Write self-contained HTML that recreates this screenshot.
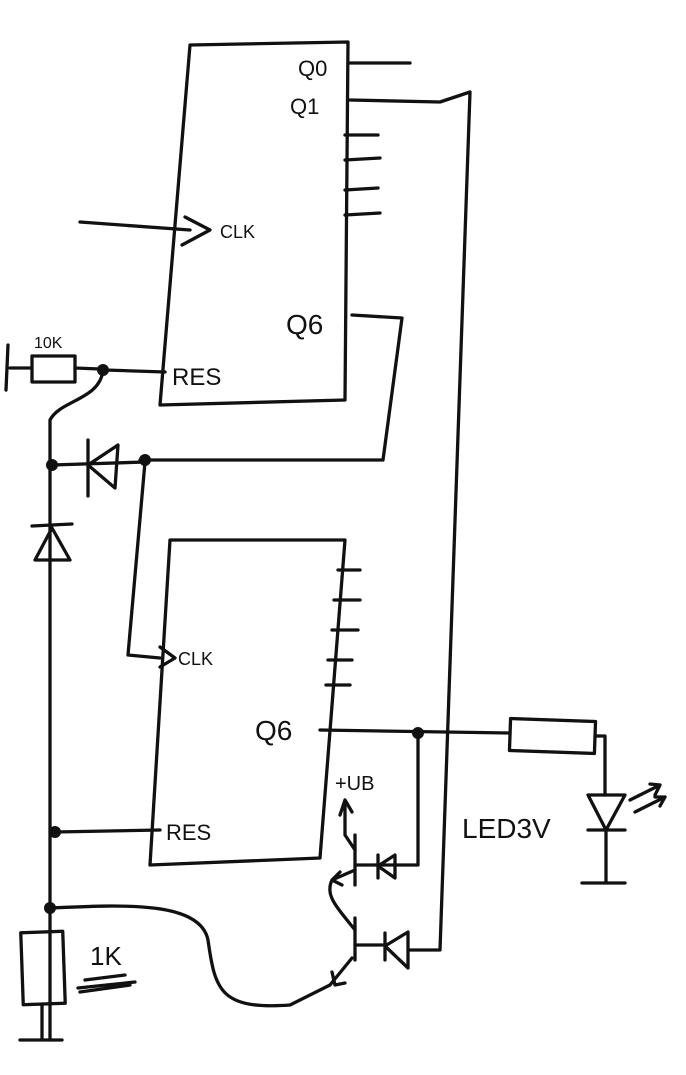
<!DOCTYPE html>
<html><head><style>
body{margin:0;background:#fff;}
svg{display:block}
text{font-family:"Liberation Sans",sans-serif;fill:#111;}
</style></head><body>
<svg width="686" height="1075" viewBox="0 0 686 1075" xmlns="http://www.w3.org/2000/svg">
<g fill="none" stroke="#111" stroke-width="3.3" stroke-linecap="round" stroke-linejoin="round">
<path d="M190,45 L348,42 L345,400 L160,405 L190,45"/>
<path d="M350,63 L410,63"/>
<path d="M350,100 L440,102 L470,92 L440,950 L410,950"/>
<path d="M345,135 L378,135 M345,160 L380,158 M345,190 L378,188 M345,215 L380,213"/>
<path d="M80,222 L190,230"/>
<path d="M185,217 L210,230 L182,245"/>
<path d="M352,315 L402,318 L383,460 L140,460"/>
<path d="M105,370 L165,372"/>
<rect x="32" y="356" width="43" height="26"/>
<path d="M10,368 L32,368 M75,368 L100,369 M8,345 L6,390"/>
<path d="M103,370 C100,400 60,400 50,420 L50,1040"/>
<path d="M52,465 L145,462"/>
<path d="M88,465 L118,445 L115,488 Z"/>
<path d="M88,440 L88,496"/>
<path d="M35,560 L70,560 L52,528 Z"/>
<path d="M32,526 L72,524"/>
<path d="M145,462 L128,655 L160,658"/>
<path d="M160,647 L175,658 L160,667"/>
<path d="M170,540 L345,540 L320,858 L150,865 L170,540"/>
<path d="M338,570 L360,570 M334,600 L360,600 M332,630 L358,630 M328,660 L352,660 M326,685 L350,685"/>
<path d="M320,730 L510,733"/>
<rect x="510" y="720" width="85" height="32" transform="rotate(2 552 736)"/>
<path d="M595,736 L605,736 L605,795"/>
<path d="M588,795 L625,795 L606,830 Z M588,830 L625,830 M606,830 L606,882 M582,883 L625,883"/>
<path d="M630,800 L660,785 M650,784 L660,785 L655,795 M635,812 L665,797 M655,797 L665,797 L660,806"/>
<path d="M418,733 L418,865 L375,865"/>
<path d="M55,832 L160,830"/>
<path d="M355,835 L355,885"/>
<path d="M355,865 L375,865"/>
<path d="M378,855 L378,878 M378,866 L395,855 L395,878 Z"/>
<path d="M355,850 L345,835 L345,800 M340,815 L345,800 L352,812"/>
<path d="M355,870 L332,880 M340,872 L332,880 L342,885 M332,880 C325,895 335,905 355,930"/>
<path d="M355,918 L355,960"/>
<path d="M355,945 L385,945"/>
<path d="M385,933 L385,960 M385,946 L408,932 L408,968 Z"/>
<path d="M352,958 L330,985 M332,972 L335,985 L345,983"/>
<path d="M50,908 C120,905 200,900 208,940 C215,990 220,1010 290,1005 L330,985"/>
<rect x="22" y="932" width="42" height="72" transform="rotate(-2 43 968)"/>
<path d="M42,1004 L42,1040 M20,1040 L62,1040"/>
<path d="M78,988 L135,982 M80,992 L130,985 M85,980 L125,975"/>
</g>
<g fill="#111">
<circle cx="103" cy="370" r="6"/>
<circle cx="52" cy="465" r="6"/>
<circle cx="145" cy="460" r="6"/>
<circle cx="55" cy="832" r="6"/>
<circle cx="50" cy="908" r="6"/>
<circle cx="418" cy="733" r="6"/>
</g>
<text x="298" y="76" font-size="22">Q0</text>
<text x="290" y="114" font-size="22">Q1</text>
<text x="220" y="238" font-size="18">CLK</text>
<text x="286" y="334" font-size="28">Q6</text>
<text x="172" y="385" font-size="24">RES</text>
<text x="34" y="348" font-size="16">10K</text>
<text x="178" y="665" font-size="18">CLK</text>
<text x="255" y="740" font-size="28">Q6</text>
<text x="166" y="840" font-size="22">RES</text>
<text x="335" y="790" font-size="20">+UB</text>
<text x="462" y="838" font-size="28">LED3V</text>
<text x="90" y="965" font-size="26">1K</text>
</svg>
</body></html>
